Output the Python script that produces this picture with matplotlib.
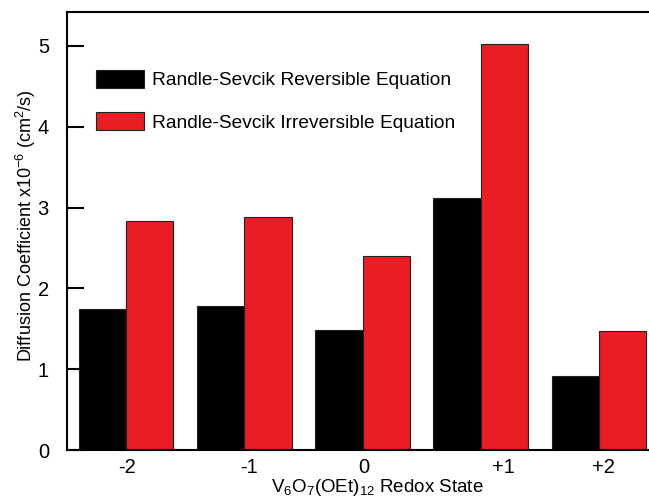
import numpy as np
import matplotlib.pyplot as plt

plt.rcParams['font.family'] = ['Liberation Sans', 'DejaVu Sans']
plt.rcParams['mathtext.fontset'] = 'custom'
plt.rcParams['mathtext.rm'] = 'Liberation Sans'
plt.rcParams['mathtext.it'] = 'Liberation Sans'

# redox states and diffusion coefficients (x1e-6 cm^2/s)
states = ['-2', '-1', '0', '+1', '+2']
reversible = [1.75, 1.78, 1.49, 3.12, 0.92]
irreversible = [2.83, 2.88, 2.40, 5.03, 1.47]

BLACK = '#000000'
RED = '#ec1c24'

fig = plt.figure(figsize=(6.49, 4.97), dpi=100)
ax = fig.add_axes([67 / 649, 47 / 497, 591 / 649, 438 / 497])

x = np.arange(len(states))
w = 0.40
ax.bar(x - w / 2, reversible, w, color=BLACK, edgecolor='#222222', linewidth=0.8,
       label='Randle-Sevcik Reversible Equation')
ax.bar(x + w / 2, irreversible, w, color=RED, edgecolor='#222222', linewidth=0.8,
       label='Randle-Sevcik Irreversible Equation')

ax.set_xlim(-0.5, 4.5)
ax.set_ylim(0, 5.42)

# tick labels sit a little off the group centre for +1
label_shift = [0.01, 0.04, 0.01, 0.19, 0.04]
ax.set_xticks(x + np.array(label_shift))
ax.set_xticklabels(states, fontsize=14.5)
ax.tick_params(axis='x', length=0, pad=6)
ax.set_yticks([0, 1, 2, 3, 4, 5])
ax.tick_params(axis='y', direction='in', length=12, width=1.5, labelsize=14.5, pad=13)

for side in ('left', 'bottom', 'top'):
    ax.spines[side].set_linewidth(1.5)
ax.spines['right'].set_visible(False)

ax.set_ylabel(r'Diffusion Coefficient x10$^{-6}$ (cm$^{2}$/s)', fontsize=13)
ax.yaxis.set_label_coords(-0.049, 0.512)
ax.set_xlabel(r'V$_{6}$O$_{7}$(OEt)$_{12}$ Redox State', fontsize=13.5)
ax.xaxis.set_label_coords(0.525, -0.061)

ax.legend(loc='upper left', bbox_to_anchor=(0.049, 0.868), frameon=False,
          fontsize=13.8, handlelength=2.5, handleheight=1.05, handletextpad=0.4,
          labelspacing=1.2, borderpad=0, borderaxespad=0)

fig.savefig('out.png', dpi=100)
